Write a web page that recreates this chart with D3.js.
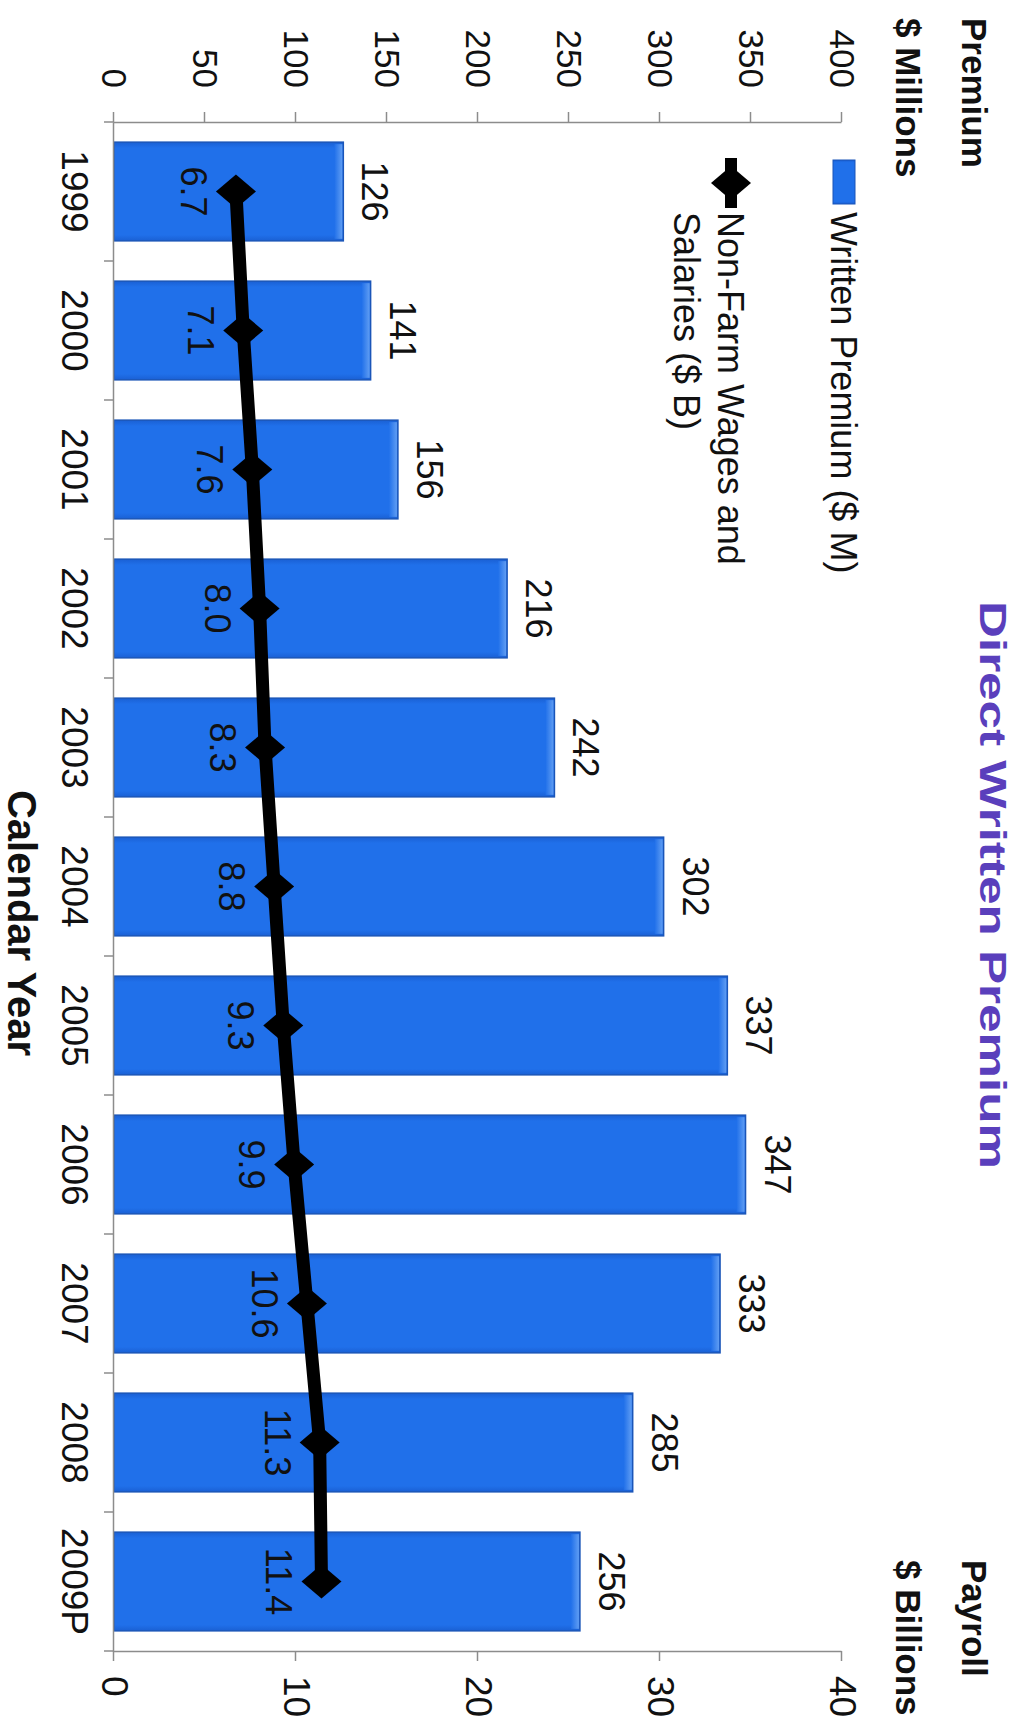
<!DOCTYPE html>
<html>
<head>
<meta charset="utf-8">
<script src="https://cdn.jsdelivr.net/npm/d3@7"></script>
<style>
  html, body { margin: 0; padding: 0; background: #fff; }
  svg { display: block; }
  text { font-family: "Liberation Sans", Arial, sans-serif; }
</style>
</head>
<body>
<svg id="chart" width="1020" height="1729"></svg>
<script>
// Calendar years and the two series
const years = ["1999", "2000", "2001", "2002", "2003", "2004", "2005", "2006", "2007", "2008", "2009P"];
const premium = [126, 141, 156, 216, 242, 302, 337, 347, 333, 285, 256];   // $ millions
const payroll = [6.7, 7.1, 7.6, 8.0, 8.3, 8.8, 9.3, 9.9, 10.6, 11.3, 11.4]; // $ billions
const premiumTicks = [0, 50, 100, 150, 200, 250, 300, 350, 400];
const payrollTicks = [0, 10, 20, 30, 40];

const svg = d3.select("#chart");

// The chart is laid out landscape (1729 x 1020) and turned a quarter clockwise
const W = 1729, H = 1020;
const g = svg.append("g").attr("transform", `translate(${H},0) rotate(90)`);

const plot = { left: 122, right: 1651, top: 178, bottom: 906 };

const x = d3.scaleBand().domain(years)
  .range([plot.left, plot.right])
  .paddingInner(0.29).paddingOuter(0.145);
const yL = d3.scaleLinear().domain([0, 400]).range([plot.bottom, plot.top]);
const yR = d3.scaleLinear().domain([0, 40]).range([plot.bottom, plot.top]);

// bar fill with a soft bevel
const defs = svg.append("defs");
const grad = defs.append("linearGradient").attr("id", "barFill")
  .attr("x1", 0).attr("y1", 0).attr("x2", 1).attr("y2", 0);
grad.append("stop").attr("offset", "0%").attr("stop-color", "#1a60d4");
grad.append("stop").attr("offset", "6%").attr("stop-color", "#2070ea");
grad.append("stop").attr("offset", "94%").attr("stop-color", "#2070ea");
grad.append("stop").attr("offset", "100%").attr("stop-color", "#1a60d4");
const cap = defs.append("linearGradient").attr("id", "barCap")
  .attr("x1", 0).attr("y1", 0).attr("x2", 0).attr("y2", 1);
cap.append("stop").attr("offset", "0%").attr("stop-color", "#6fa8f5");
cap.append("stop").attr("offset", "100%").attr("stop-color", "#2070ea");

// bars
g.append("g").selectAll("rect").data(premium).join("rect")
  .attr("x", (d, i) => x(years[i]))
  .attr("y", d => yL(d))
  .attr("width", x.bandwidth())
  .attr("height", d => yL(0) - yL(d))
  .attr("fill", "url(#barFill)")
  .attr("stroke", "#1a55b8")
  .attr("stroke-width", 1.5);
g.append("g").selectAll("rect").data(premium).join("rect")
  .attr("x", (d, i) => x(years[i]) + 2)
  .attr("y", d => yL(d) + 1)
  .attr("width", x.bandwidth() - 4)
  .attr("height", 8)
  .attr("fill", "url(#barCap)")
  .attr("opacity", 0.8);

// axes
const axisStyle = sel => {
  sel.select(".domain").attr("stroke", "#8c8c8c").attr("stroke-width", 1.5);
  sel.selectAll(".tick line").attr("stroke", "#8c8c8c").attr("stroke-width", 1.5);
  sel.selectAll("text").attr("fill", "#111").attr("font-family", "Liberation Sans, Arial, sans-serif");
};

g.append("g")
  .attr("transform", `translate(${plot.left},0)`)
  .call(d3.axisLeft(yL).tickValues(premiumTicks).tickSize(10).tickSizeOuter(0).tickPadding(24))
  .call(axisStyle)
  .selectAll("text").attr("font-size", 35);

g.append("g")
  .attr("transform", `translate(${plot.right},0)`)
  .call(d3.axisRight(yR).tickValues(payrollTicks).tickSize(10).tickSizeOuter(0).tickPadding(15))
  .call(axisStyle)
  .selectAll("text").attr("font-size", 37);

const xAxis = g.append("g")
  .attr("transform", `translate(0,${plot.bottom})`)
  .call(d3.axisBottom(x).tickSize(0).tickSizeOuter(0).tickPadding(26))
  .call(axisStyle);
xAxis.selectAll("text").attr("font-size", 37);

// category boundary ticks
const bounds = years.map(c => x(c) - x.step() * x.paddingInner() / 2).concat([plot.right]);
g.append("g").selectAll("line").data(bounds).join("line")
  .attr("x1", d => d).attr("x2", d => d)
  .attr("y1", plot.bottom).attr("y2", plot.bottom + 10)
  .attr("stroke", "#8c8c8c").attr("stroke-width", 1.5);

// payroll line
const line = d3.line()
  .x((d, i) => x(years[i]) + x.bandwidth() / 2)
  .y(d => yR(d));
g.append("path").datum(payroll)
  .attr("d", line)
  .attr("fill", "none")
  .attr("stroke", "#000")
  .attr("stroke-width", 13)
  .attr("stroke-linejoin", "round");

const diamond = "M0,-20L17,0L0,20L-17,0Z";
g.append("g").selectAll("path").data(payroll).join("path")
  .attr("transform", (d, i) => `translate(${x(years[i]) + x.bandwidth() / 2},${yR(d)})`)
  .attr("d", diamond)
  .attr("fill", "#000");

// value labels
g.append("g").selectAll("text").data(premium).join("text")
  .attr("x", (d, i) => x(years[i]) + x.bandwidth() / 2)
  .attr("y", d => yL(d) - 19)
  .attr("text-anchor", "middle")
  .attr("font-size", 36)
  .attr("fill", "#111")
  .text(d => d);

g.append("g").selectAll("text").data(payroll).join("text")
  .attr("x", (d, i) => x(years[i]) + x.bandwidth() / 2)
  .attr("y", d => yR(d) + 55)
  .attr("text-anchor", "middle")
  .attr("font-size", 36)
  .attr("fill", "#111")
  .text(d => d.toFixed(1));

// titles
g.append("text")
  .attr("x", 885).attr("y", 40)
  .attr("text-anchor", "middle")
  .attr("font-size", 37).attr("font-weight", "bold")
  .attr("fill", "#5a3fbc")
  .attr("textLength", 568).attr("lengthAdjust", "spacingAndGlyphs")
  .text("Direct Written Premium");

g.append("text").attr("x", 18).attr("y", 58)
  .attr("font-size", 35).attr("font-weight", "bold").attr("fill", "#111").text("Premium");
g.append("text").attr("x", 18).attr("y", 124)
  .attr("font-size", 35).attr("font-weight", "bold").attr("fill", "#111").text("$ Millions");
g.append("text").attr("x", 1560).attr("y", 58)
  .attr("font-size", 35).attr("font-weight", "bold").attr("fill", "#111").text("Payroll");
g.append("text").attr("x", 1560).attr("y", 124)
  .attr("font-size", 35).attr("font-weight", "bold").attr("fill", "#111").text("$ Billions");

g.append("text")
  .attr("x", 923).attr("y", 1012)
  .attr("text-anchor", "middle")
  .attr("font-size", 40).attr("font-weight", "bold").attr("fill", "#111")
  .text("Calendar Year");

// legend
const legend = g.append("g");
legend.append("rect")
  .attr("x", 160).attr("y", 165).attr("width", 44).attr("height", 22)
  .attr("fill", "url(#barFill)").attr("stroke", "#1a55b8").attr("stroke-width", 1);
legend.append("text").attr("x", 212).attr("y", 189)
  .attr("font-size", 36).attr("fill", "#111").text("Written Premium ($ M)");
legend.append("line")
  .attr("x1", 158).attr("x2", 208).attr("y1", 289).attr("y2", 289)
  .attr("stroke", "#000").attr("stroke-width", 12);
legend.append("path")
  .attr("transform", "translate(183,289)")
  .attr("d", diamond).attr("fill", "#000");
legend.append("text").attr("x", 212).attr("y", 302)
  .attr("font-size", 36).attr("fill", "#111").text("Non-Farm Wages and");
legend.append("text").attr("x", 212).attr("y", 346)
  .attr("font-size", 36).attr("fill", "#111").text("Salaries ($ B)");
</script>
</body>
</html>
